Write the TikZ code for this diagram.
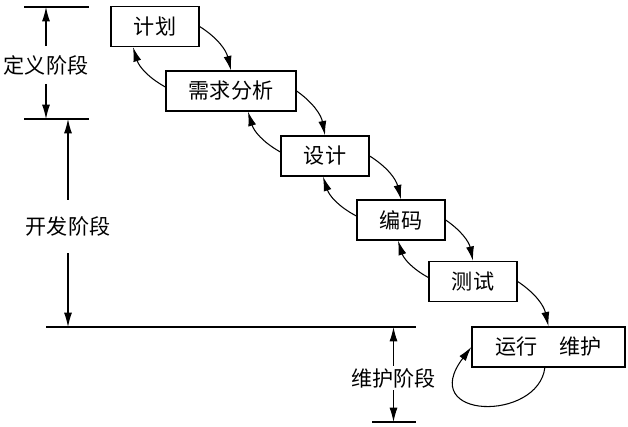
\documentclass[tikz,border=0pt]{standalone}
\usepackage{fontspec}
\newfontfamily\cjk{Noto Sans CJK SC}
\usepackage{tikz}
\usetikzlibrary{
  arrows.meta,          % arrow tips
  calc,                 % coordinate math
}

\begin{document}
\begin{tikzpicture}[
  x=0.025cm, y=0.025cm,
  phase/.style={draw, line width=0.9pt, minimum height=1cm, inner sep=0pt,
    font=\cjk\fontsize{15}{18}\selectfont},
  stage/.style={inner xsep=0pt, font=\cjk\fontsize{15}{18}\selectfont},
  flow/.style={-{Latex[length=3.6mm, width=2mm]}, line width=0.75pt, bend left=22},
  dim/.style={-{Latex[length=3.6mm, width=2mm]}, line width=0.75pt},
  rule/.style={line width=0.9pt},
]
  \useasboundingbox (0,0) rectangle (628,-426);
  % Phase boxes
  \node[phase, minimum width=2.2cm]   (jh) at (155,-26.5)  {计划};
  \node[phase, minimum width=3.25cm]  (xq) at (231,-91)    {需求分析};
  \node[phase, minimum width=2.2cm]   (sj) at (325,-156)   {设计};
  \node[phase, minimum width=2.2cm]   (bm) at (401,-220)   {编码};
  \node[phase, minimum width=2.2cm]   (cs) at (473,-281.5) {测试};
  \node[phase, minimum width=3.825cm] (yw) at (548.5,-347) {运行\quad 维护};
  % Forward arrows
  \draw[flow] (jh.east) to (xq.north);
  \draw[flow] (xq.east) to (sj.north);
  \draw[flow] (sj.east) to (bm.north);
  \draw[flow] (bm.east) to (cs.north);
  \draw[flow] (cs.east) to (yw.north);
  % Backward arrows
  \draw[flow] ([yshift=0.1cm]xq.west) to ($(jh.south)+(-22,0)$);
  \draw[flow] ([yshift=0.1cm]sj.west) to ($(xq.south)+(17,0)$);
  \draw[flow] ([yshift=0.1cm]bm.west) to ($(sj.south)+(-2,0)$);
  \draw[flow] ([yshift=0.1cm]cs.west) to ($(bm.south)+(-3,0)$);
  % Maintenance loop
  \draw[dim] (yw.260) .. controls (538,-422) and (416,-420) .. (yw.west);
  % Stage rules
  \draw[rule] (24,-7) -- (89,-7);
  \draw[rule] (24,-119) -- (89,-119);
  \draw[rule] (46,-327) -- (416,-327);
  \draw[rule] (372,-422) -- (416,-422);
  \coordinate (dyTop) at (46,-7);
  \coordinate (dyBot) at (46,-119);
  \coordinate (kfTop) at (68,-119);
  \coordinate (kfBot) at (68,-327);
  \coordinate (whTop) at (393.5,-327);
  \coordinate (whBot) at (393.5,-422);
  % Stage labels
  \node[stage, inner ysep=0.22cm] (dy) at (46,-65)     {定义阶段};
  \node[stage, inner ysep=0.42cm] (kf) at (68,-226.5)  {开发阶段};
  \node[stage, inner ysep=0.06cm] (wh) at (393.5,-378) {维护阶段};
  \draw[dim] (dy.north) -- (dyTop);
  \draw[dim] (dy.south) -- (dyBot);
  \draw[dim] (kf.north) -- (kfTop);
  \draw[dim] (kf.south) -- (kfBot);
  \draw[dim] (wh.north) -- (whTop);
  \draw[dim] (wh.south) -- (whBot);
\end{tikzpicture}
\end{document}
